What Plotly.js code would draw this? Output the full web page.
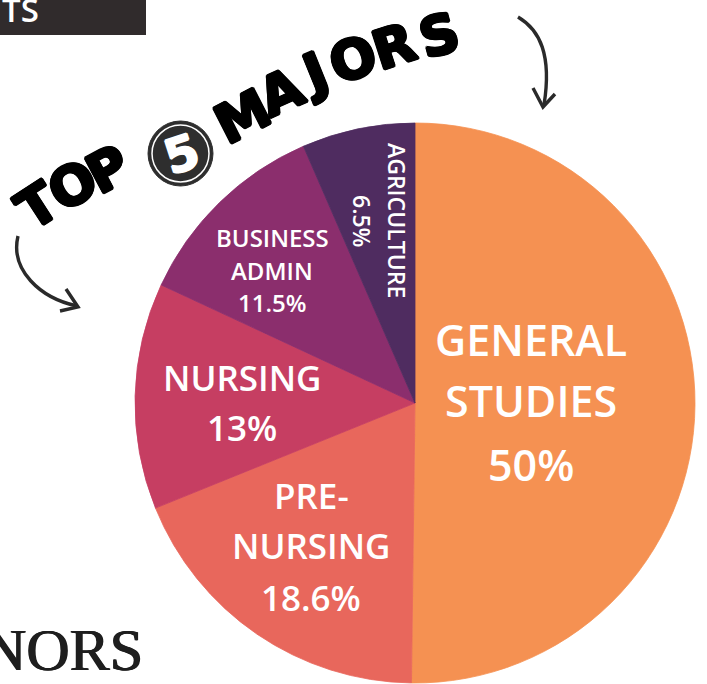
<!DOCTYPE html>
<html>
<head>
<meta charset="utf-8">
<script src="https://cdn.plot.ly/plotly-3.0.1.min.js"></script>
<style>html,body{margin:0;padding:0;background:#fff;}#chart{width:707px;height:684px;}</style>
</head>
<body>
<div id="chart"></div>
<script>
// ---- data ----
var majors = ['GENERAL STUDIES', 'PRE-NURSING', 'NURSING', 'BUSINESS ADMIN', 'AGRICULTURE'];
var displayLines = [['GENERAL', 'STUDIES'], ['PRE-', 'NURSING'], ['NURSING'], ['BUSINESS', 'ADMIN'], ['AGRICULTURE']];
var shares = [50, 18.6, 13, 11.5, 6.5];
var sliceColors = ['#F59152', '#E8675C', '#C63E62', '#8B2E6D', '#4F2C60'];
var titleTop = ['T', 'O', 'P'];
var titleNum = '5';
var titleMajors = ['M', 'A', 'J', 'O', 'R', 'S'];

// ---- layout helpers (pixel -> paper) ----
var W = 707, H = 684;
function px(x) { return x / W; }
function py(y) { return 1 - y / H; }
function pt(x, y) { return px(x).toFixed(5) + ',' + py(y).toFixed(5); }

// label placement (pixels) per slice
var labelPos = [
  {x: 531, ys: [340, 400, 464], size: 43, angle: 0},
  {x: 311, ys: [495, 545, 597], size: 35, angle: 0},
  {x: 242, ys: [377, 427], size: 35, angle: 0},
  {x: 272, ys: [237, 270, 303], size: 24, angle: 0},
  {x: 0, ys: [0], size: 23, angle: 90, rot: [[397, 221], [362, 221]]}
];

var annotations = [];
majors.forEach(function (m, i) {
  var lines = displayLines[i].concat([shares[i] + '%']);
  var lp = labelPos[i];
  lines.forEach(function (t, j) {
    var x, y;
    if (lp.rot) { x = lp.rot[j][0]; y = lp.rot[j][1]; }
    else { x = lp.x; y = lp.ys[j]; }
    annotations.push({
      text: t, xref: 'paper', yref: 'paper', x: px(x), y: py(y),
      xanchor: 'center', yanchor: 'middle', showarrow: false, textangle: lp.angle,
      font: {family: '"Open Sans", sans-serif', size: lp.size, color: '#ffffff', weight: 600}
    });
  });
});

// title letters along arc
var topPos = [[37, 206, -33], [73, 186, -30], [108, 169, -28]];
var majPos = [[243, 117, -27], [281, 92, -24], [314, 74, -22], [353, 59, -20], [394, 46, -18], [440, 36, -15]];
var heavy = '1.5px 0 0 #000, -1.5px 0 0 #000, 0 1.5px 0 #000, 0 -1.5px 0 #000, 1px 1px 0 #000, -1px -1px 0 #000, 1px -1px 0 #000, -1px 1px 0 #000';
var titleFont = {family: '"DejaVu Sans", Roboto, sans-serif', size: 54, color: '#000000', weight: 900, shadow: heavy};
titleTop.forEach(function (c, i) {
  annotations.push({text: c, xref: 'paper', yref: 'paper', x: px(topPos[i][0]), y: py(topPos[i][1]),
    xanchor: 'center', yanchor: 'middle', showarrow: false, textangle: topPos[i][2], font: titleFont});
});
titleMajors.forEach(function (c, i) {
  annotations.push({text: c, xref: 'paper', yref: 'paper', x: px(majPos[i][0]), y: py(majPos[i][1]),
    xanchor: 'center', yanchor: 'middle', showarrow: false, textangle: majPos[i][2], font: titleFont});
});
annotations.push({text: titleNum, xref: 'paper', yref: 'paper', x: px(181), y: py(154),
  xanchor: 'center', yanchor: 'middle', showarrow: false, textangle: -18,
  font: {family: '"DejaVu Sans", sans-serif', size: 48, color: '#ffffff', weight: 900,
    shadow: '1px 0 0 #fff, -1px 0 0 #fff, 0 1px 0 #fff, 0 -1px 0 #fff'}});

// header / logo fragments
annotations.push({text: 'TS', xref: 'paper', yref: 'paper', x: px(0), y: py(10), xanchor: 'left', yanchor: 'middle',
  showarrow: false, font: {family: '"Open Sans", sans-serif', size: 33, color: '#ffffff', weight: 600}});
annotations.push({text: 'NORS', xref: 'paper', yref: 'paper', x: px(145), y: py(650), xanchor: 'right', yanchor: 'middle',
  showarrow: false, font: {family: '"Liberation Serif", serif', size: 60, color: '#1e1e1e',
    shadow: '0.7px 0 0 #1e1e1e, -0.7px 0 0 #1e1e1e'}});

var arrowLine = {color: '#2a2a2a', width: 3.4};
var shapes = [
  {type: 'rect', xref: 'paper', yref: 'paper', x0: px(-2), x1: px(146), y0: py(-2), y1: py(35),
    fillcolor: '#302b2c', line: {width: 0}, layer: 'below'},
  // circle behind "5"
  {type: 'circle', xref: 'paper', yref: 'paper', x0: px(148), x1: px(213), y0: py(186), y1: py(121),
    fillcolor: '#2e2e2e', line: {color: '#2e2e2e', width: 1}},
  {type: 'circle', xref: 'paper', yref: 'paper', x0: px(152), x1: px(209), y0: py(182), y1: py(125),
    fillcolor: 'rgba(0,0,0,0)', line: {color: '#ffffff', width: 1.5}},
  // right arrow
  {type: 'path', xref: 'paper', yref: 'paper', line: arrowLine,
    path: 'M' + pt(518, 17) + ' C' + pt(540, 30) + ' ' + pt(552, 55) + ' ' + pt(544, 105)},
  {type: 'path', xref: 'paper', yref: 'paper', line: arrowLine,
    path: 'M' + pt(533, 88) + ' L' + pt(543, 107) + ' L' + pt(555, 94)},
  // left arrow
  {type: 'path', xref: 'paper', yref: 'paper', line: arrowLine,
    path: 'M' + pt(18, 236) + ' C' + pt(10, 270) + ' ' + pt(40, 298) + ' ' + pt(77, 306)},
  {type: 'path', xref: 'paper', yref: 'paper', line: arrowLine,
    path: 'M' + pt(66, 289) + ' L' + pt(78, 307) + ' L' + pt(60, 311)}
];

var trace = {
  type: 'pie',
  labels: majors,
  values: shares,
  sort: false,
  direction: 'clockwise',
  rotation: 0,
  marker: {colors: sliceColors, line: {color: sliceColors, width: 0.8}},
  textinfo: 'none',
  hoverinfo: 'label+value',
  showlegend: false,
  domain: {x: [135 / W, 695 / W], y: [1 - 683 / H, 1 - 123 / H]}
};

var layout = {
  width: W, height: H,
  margin: {l: 0, r: 0, t: 0, b: 0},
  paper_bgcolor: '#ffffff',
  plot_bgcolor: '#ffffff',
  showlegend: false,
  annotations: annotations,
  shapes: shapes
};

Plotly.newPlot('chart', [trace], layout, {displayModeBar: false, staticPlot: true});
</script>
</body>
</html>
